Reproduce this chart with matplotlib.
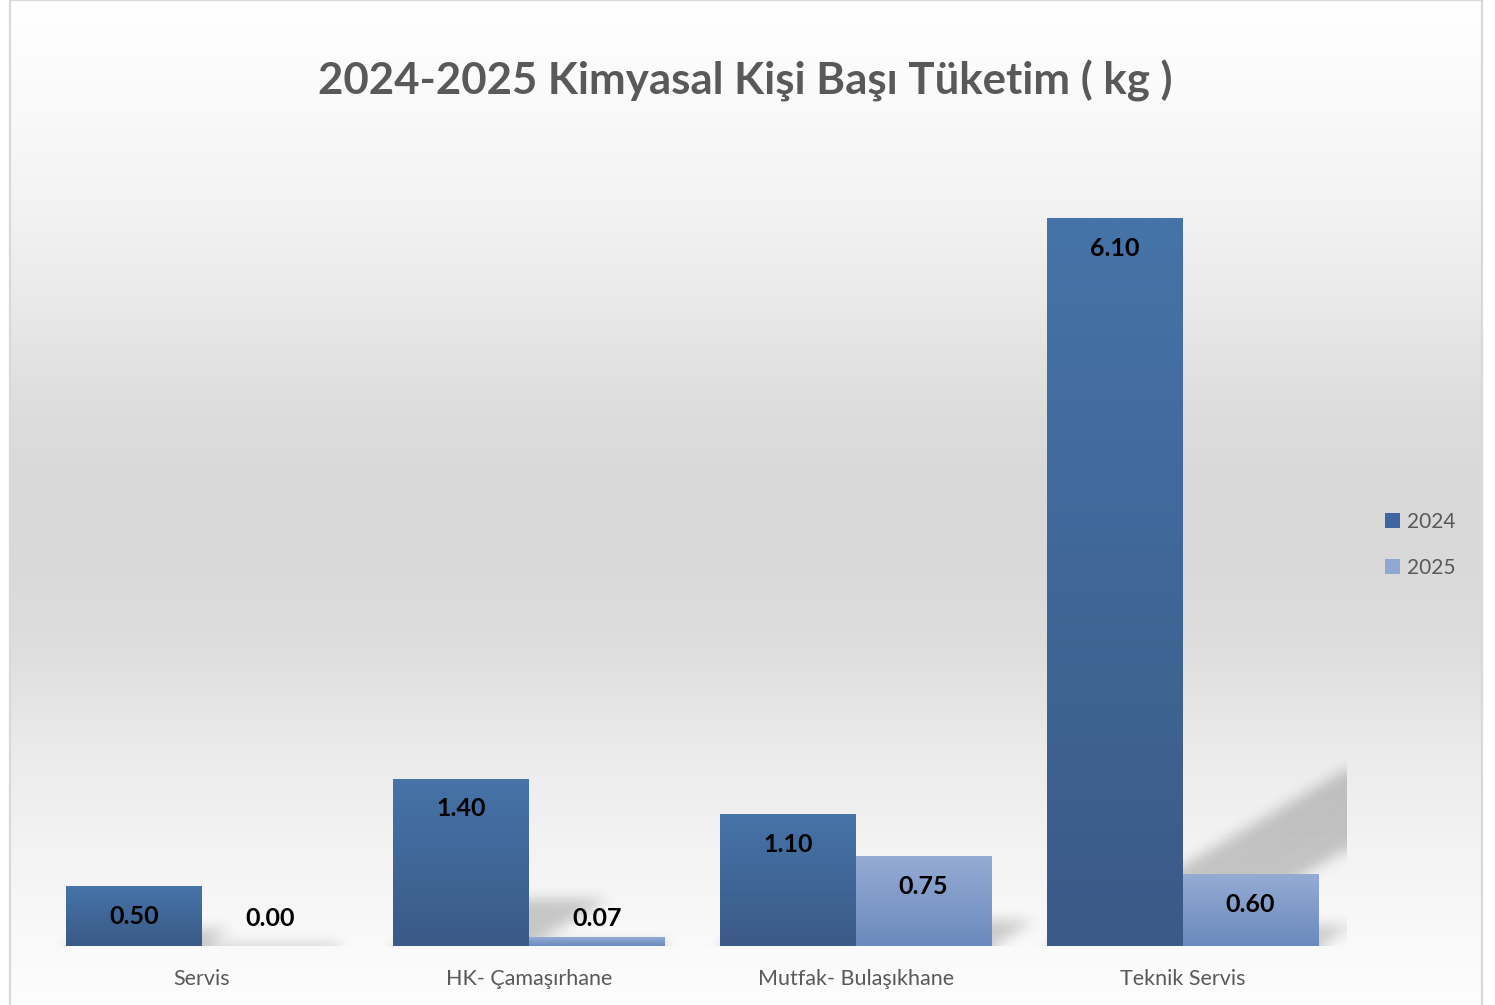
import numpy as np
import matplotlib
matplotlib.use('Agg')
import matplotlib.pyplot as plt
from matplotlib.patches import Patch

plt.rcParams['font.family'] = ['Lato', 'DejaVu Sans']

# ---------------- data ----------------
categories = ['Servis', 'HK- Çamaşırhane', 'Mutfak- Bulaşıkhane', 'Teknik Servis']
series_names = ['2024', '2025']
values_2024 = [0.50, 1.40, 1.10, 6.10]
values_2025 = [0.00, 0.07, 0.75, 0.60]
title_text = '2024-2025 Kimyasal Kişi Başı Tüketim ( kg )'

# ---------------- style ----------------
W, H = 1495, 1005
grad_2024 = ('#4673a8', '#3a5a87')   # top, bottom
grad_2025 = ('#95abd4', '#6a8abd')
legend_cols = ['#3f66a0', '#8fa7d1']
text_gray = '#595959'

fig = plt.figure(figsize=(W / 100, H / 100), dpi=100)
fig.patch.set_facecolor('white')

# chart-area background gradient
bg = fig.add_axes([10 / W, 0, 1472 / W, 1])
stops_y = np.array([0, 100, 200, 300, 400, 480, 560, 650, 760, 850, 950, 1005]) / H
stops_v = np.array([255, 250, 243, 234, 222, 217, 217, 222, 236, 243, 250, 253]) / 255
yy = np.linspace(0, 1, 600)
g = np.interp(yy, stops_y, stops_v)
img = np.dstack([np.repeat(g[:, None], 2, axis=1)] * 3)
bg.imshow(img, extent=(0, 1, 0, 1), origin='upper', aspect='auto', interpolation='bilinear')
bg.set_xlim(0, 1)
bg.set_ylim(0, 1)
bg.axis('off')
for xs_, ys_ in [([0, 0], [0, 1]), ([1, 1], [0, 1]), ([0, 1], [1, 1])]:
    bg.plot(xs_, ys_, color='#d9d9d9', lw=1.6, clip_on=False)

# main plot axes
ax = fig.add_axes([38.5 / W, 59 / H, 1307.5 / W, 834.4 / H])
ax.set_xlim(-0.5, 3.5)
ax.set_ylim(0, 7)
ax.patch.set_alpha(0)
for s in ax.spines.values():
    s.set_visible(False)
ax.set_yticks([])

x = np.arange(len(categories))
bw = 0.416
offsets = [-bw / 2, bw / 2]
all_series = [values_2024, values_2025]
grads = [grad_2024, grad_2025]


def hex2rgb(h):
    h = h.lstrip('#')
    return np.array([int(h[i:i + 2], 16) for i in (0, 2, 4)]) / 255


# ---- perspective shadows (computed from the bars) ----
nx, ny = 1308, 834
gx = np.linspace(-0.5, 3.5, nx)
gy = np.linspace(0, 7, ny)
GX, GY = np.meshgrid(gx, gy)
mask = np.zeros_like(GX)
k_shift = 0.62     # horizontal shift per unit height
s_frac = 0.28      # shadow height fraction
for vals, off in zip(all_series, offsets):
    for xi, v in zip(x, vals):
        x0, x1 = xi + off - bw / 2, xi + off + bw / 2
        hs = s_frac * v
        m = (GY <= max(hs, gy[1])) & (GX >= x0 + k_shift * GY) & (GX <= x1 + k_shift * GY)
        mask = np.maximum(mask, m.astype(float))


def box_blur(a, r, axis):
    pad = [(0, 0), (0, 0)]
    pad[axis] = (r + 1, r)
    ap = np.pad(a, pad, mode='edge')
    c = np.cumsum(ap, axis=axis)
    if axis == 0:
        return (c[2 * r + 1:, :] - c[:-2 * r - 1, :]) / (2 * r + 1)
    return (c[:, 2 * r + 1:] - c[:, :-2 * r - 1]) / (2 * r + 1)


for _ in range(3):
    mask = box_blur(mask, 6, 0)
    mask = box_blur(mask, 6, 1)

shadow = np.zeros((ny, nx, 4))
shadow[..., 3] = mask * 0.2
ax.imshow(shadow, extent=(-0.5, 3.5, 0, 7), origin='lower', aspect='auto',
          interpolation='bilinear', zorder=1)

# ---- bars with vertical gradient ----
for vals, off, gr, name in zip(all_series, offsets, grads, series_names):
    bars = ax.bar(x + off, vals, bw, color='none', edgecolor='none', zorder=3, label=name)
    top, bot = hex2rgb(gr[0]), hex2rgb(gr[1])
    t = np.linspace(0, 1, 128)[:, None]
    col = top[None, :] * (1 - t) + bot[None, :] * t
    gimg = col[:, None, :].repeat(2, axis=1)
    for rect, v in zip(bars, vals):
        if v <= 0:
            continue
        x0 = rect.get_x()
        ax.imshow(gimg, extent=(x0, x0 + rect.get_width(), 0, rect.get_height()),
                  origin='upper', aspect='auto', interpolation='bilinear', zorder=3)
    for rect, v in zip(bars, vals):
        ly = v - 0.25 if v - 0.25 >= 0.2 else 0.227
        ax.text(rect.get_x() + rect.get_width() / 2, ly, f'{v:.2f}', ha='center', va='center',
                fontsize=18, fontweight='bold', color='black', zorder=5)

ax.set_xlim(-0.5, 3.5)
ax.set_ylim(0, 7)
ax.set_xticks(x, categories)
ax.tick_params(axis='x', length=0, pad=16.5, labelsize=15.5, labelcolor=text_gray)

# legend
handles = [Patch(facecolor=c, edgecolor='none') for c in legend_cols]
fig.legend(handles, series_names, loc='center left', bbox_to_anchor=(1366 / W, 1 - 545 / H),
           frameon=False, handlelength=0.75, handleheight=0.75, fontsize=15,
           labelcolor=text_gray, labelspacing=1.25, handletextpad=0.3)

fig.text(745 / W, 1 - 81 / H, title_text, ha='center', va='center', fontsize=31.5,
         fontweight='bold', color=text_gray)

fig.savefig('out.png', dpi=100)
